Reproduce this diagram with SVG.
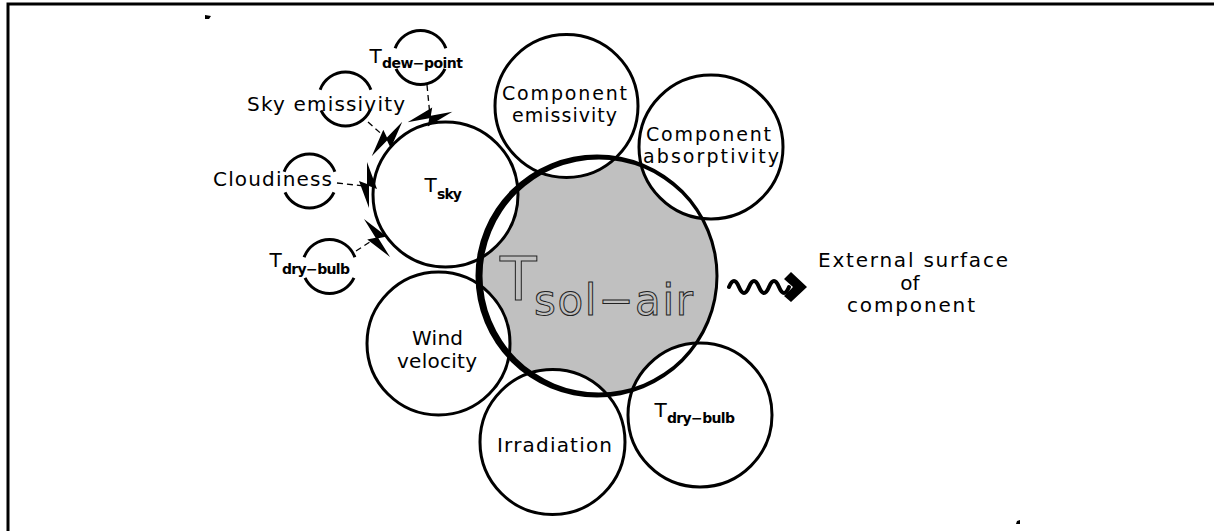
<svg xmlns="http://www.w3.org/2000/svg" xmlns:xlink="http://www.w3.org/1999/xlink" width="1214" height="531" viewBox="0 0 1214 531">
  <style>
    .lbl { font-family: "DejaVu Sans", "Liberation Sans", sans-serif; font-size: 20px; fill: #000; }
    .lbl2 { font-family: "DejaVu Sans", "Liberation Sans", sans-serif; font-size: 19px; fill: #000; }
    .sub { font-family: "DejaVu Sans", "Liberation Sans", sans-serif; font-size: 14px; font-weight: bold; fill: #000; }
    .node { fill: #fff; stroke: #000; stroke-width: 3; }
    .ring { fill: none; stroke: #000; stroke-width: 3; }
    .dash { fill: none; stroke: #000; stroke-width: 1.3; stroke-dasharray: 6 4; }
    .big { font-family: "DejaVu Sans", "Liberation Sans", sans-serif; fill: none; stroke: #222; stroke-width: 1; }
  </style>
  <defs>
    <!-- open ring: upper and lower arcs, gaps left and right for the label -->
    <g id="gap-ring">
      <path class="ring" d="M-25.37,-9.23 A27,27 0 0,1 25.37,-9.23"/>
      <path class="ring" d="M24.47,11.41 A27,27 0 0,1 -24.47,11.41"/>
    </g>
    <!-- zig-zag arrowhead laid along the x axis -->
    <path id="bolt" d="M-23,1 L4,-9 L1,-1 L23,-1 L-4,9 L-1,1 Z" fill="#000"/>
  </defs>

  <!-- frame -->
  <path d="M8,531 V4 H1214" fill="none" stroke="#000" stroke-width="3"/>
  <path d="M205,15 L211,16 L209,19 L205,19 Z" fill="#000"/>
  <path d="M1016,524 L1017,521 L1020,520 L1020,524 Z" fill="#000"/>

  <!-- central node fill -->
  <g id="node-sol-air-fill">
    <circle cx="598" cy="276" r="119" fill="#c0c0c0"/>
  </g>

  <!-- surrounding nodes -->
  <g id="node-tsky">
    <circle class="node" cx="445.5" cy="194.5" r="72.5"/>
    <text class="lbl" x="424.5" y="192">T</text>
    <text class="sub" x="437" y="199" textLength="25">sky</text>
  </g>
  <g id="node-comp-emissivity">
    <circle class="node" cx="566.5" cy="106" r="71.5"/>
    <text class="lbl2" x="502" y="100" textLength="125">Component</text>
    <text class="lbl2" x="512" y="122" textLength="105">emissivity</text>
  </g>
  <g id="node-comp-absorptivity">
    <circle class="node" cx="711" cy="147" r="72"/>
    <text class="lbl2" x="646" y="141" textLength="125">Component</text>
    <text class="lbl2" x="643" y="163" textLength="136">absorptivity</text>
  </g>
  <g id="node-wind">
    <circle class="node" cx="438.5" cy="343.5" r="71.5"/>
    <text class="lbl" x="412" y="345" textLength="51">Wind</text>
    <text class="lbl" x="397" y="368" textLength="80">velocity</text>
  </g>
  <g id="node-irradiation">
    <circle class="node" cx="552.5" cy="442" r="72.5"/>
    <text class="lbl" x="497" y="452" textLength="115">Irradiation</text>
  </g>
  <g id="node-tdry">
    <circle class="node" cx="700" cy="415" r="72"/>
    <text class="lbl" x="654.5" y="417">T</text>
    <text class="sub" x="667" y="423" textLength="68">dry−bulb</text>
  </g>

  <!-- central node outline and label -->
  <g id="node-sol-air">
    <path fill="#000" fill-rule="evenodd" d="M475.5,276 a121.5,121.5 0 1,0 243,0 a121.5,121.5 0 1,0 -243,0 Z M482.5,276 a116.5,116.5 0 1,0 233,0 a116.5,116.5 0 1,0 -233,0 Z"/>
    <text class="big" x="500" y="300" font-size="60">T</text>
    <text class="big" x="534" y="315" font-size="42" textLength="159">sol−air</text>
  </g>

  <!-- inputs to the sky temperature -->
  <g id="node-tdew">
    <use xlink:href="#gap-ring" x="420.5" y="57.5"/>
    <text class="lbl" x="369.5" y="63">T</text>
    <text class="sub" x="382" y="68" textLength="81">dew−point</text>
  </g>
  <g id="node-sky-emissivity">
    <use xlink:href="#gap-ring" x="345.5" y="99"/>
    <text class="lbl" x="247" y="111" textLength="158">Sky  emissivity</text>
  </g>
  <g id="node-cloudiness">
    <use xlink:href="#gap-ring" x="309.5" y="181"/>
    <text class="lbl" x="213" y="186" textLength="119">Cloudiness</text>
  </g>
  <g id="node-tdry-left">
    <use xlink:href="#gap-ring" x="329.5" y="266.5"/>
    <text class="lbl" x="269.5" y="267">T</text>
    <text class="sub" x="282" y="274" textLength="68">dry−bulb</text>
  </g>

  <!-- output label -->
  <g id="node-external">
    <text class="lbl" x="818" y="267" textLength="190">External  surface</text>
    <text class="lbl" x="910" y="290" text-anchor="middle">of</text>
    <text class="lbl" x="847" y="312" textLength="128">component</text>
  </g>

  <!-- connectors -->
  <g id="connectors">
    <path class="dash" d="M427,85 L430,116"/>
    <path class="dash" d="M368,122 L386,138"/>
    <path class="dash" d="M337,183 L364,186"/>
    <path class="dash" d="M356,251 L373,240"/>
    <use xlink:href="#bolt" transform="translate(430,117) rotate(-11)"/>
    <use xlink:href="#bolt" transform="translate(387,139) rotate(-46)"/>
    <use xlink:href="#bolt" transform="translate(368,185) rotate(90)"/>
    <use xlink:href="#bolt" transform="translate(377,238) rotate(58)"/>
    <!-- heat flow to the external surface -->
    <path d="M729,287 q5,-12 10,0 t10,0 t10,0 t10,0 t10,0 t10,0" fill="none" stroke="#000" stroke-width="4" stroke-linecap="round"/>
    <path d="M791,272 L807,287 L791,302 L784,296 L793,287 L784,279 Z" fill="#000"/>
  </g>
</svg>
